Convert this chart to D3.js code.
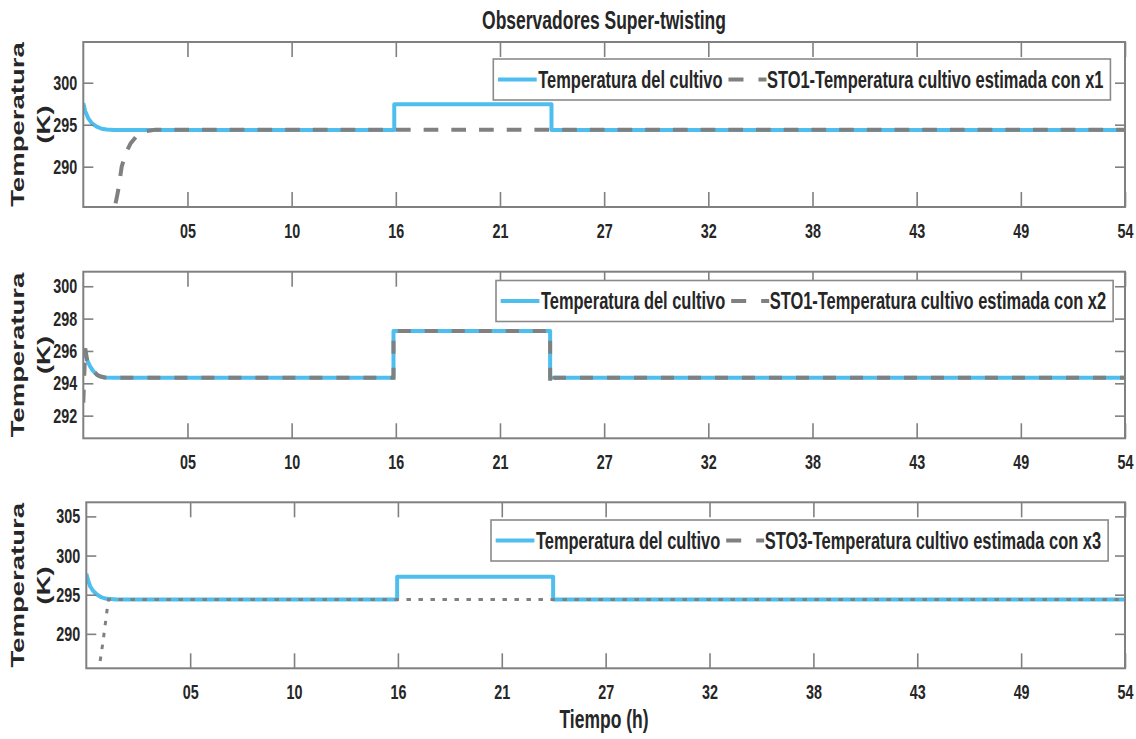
<!DOCTYPE html>
<html>
<head>
<meta charset="utf-8">
<script src="https://cdn.jsdelivr.net/npm/d3@7/dist/d3.min.js"></script>
<style>
  html, body { margin: 0; padding: 0; background: #ffffff; }
  svg { display: block; }
</style>
</head>
<body>
<svg id="chart" width="1136" height="739"></svg>
<script>
// Time axis (hours): tick positions and their printed labels
const xTickValues = [5.4, 10.8, 16.2, 21.6, 27, 32.4, 37.8, 43.2, 48.6, 54];
const xTickLabels = ["05", "10", "16", "21", "27", "32", "38", "43", "49", "54"];

// Panel 1: measured culture temperature and STO1 estimate from x1
const tReal1 = [0, 0.1, 0.26, 0.45, 0.69, 0.95, 1.21, 1.6, 16.12, 16.12, 24.27, 24.27, 54];
const vReal1 = [297.55, 296.6, 295.76, 295.15, 294.76, 294.52, 294.42, 294.37, 294.37, 297.45, 297.45, 294.37, 294.37];
const tEst1 = [1.4, 1.64, 1.81, 1.99, 2.2, 2.46, 2.75, 3.11, 3.72, 54];
const vEst1 = [282.4, 285.24, 287.2, 290.0, 291.6, 292.8, 293.6, 294.17, 294.4, 294.4];
const yTicks1 = [290, 295, 300];

// Panel 2: measured culture temperature and STO1 estimate from x2
const tReal2 = [0, 0.1, 0.2, 0.35, 0.52, 0.73, 0.9, 1.1, 1.6, 16.08, 16.08, 24.2, 24.2, 54];
const vReal2 = [296.16, 295.75, 295.44, 295.05, 294.75, 294.51, 294.42, 294.36, 294.35, 294.35, 297.23, 297.23, 294.35, 294.35];
const tEst2 = [0, 0.1, 0.2, 0.35, 0.52, 0.73, 0.9, 1.1, 1.6, 16.08, 16.08, 24.2, 24.2, 24.45, 54];
const vEst2 = [292.8, 296.16, 295.44, 295.05, 294.75, 294.51, 294.42, 294.36, 294.35, 294.35, 297.23, 297.23, 293.8, 294.35, 294.35];
const yTicks2 = [292, 294, 296, 298, 300];

// Panel 3: measured culture temperature and STO3 estimate from x3
const tReal3 = [0, 0.1, 0.2, 0.35, 0.55, 0.8, 1.06, 1.6, 16.16, 16.16, 24.27, 24.27, 54];
const vReal3 = [297.66, 296.8, 296.08, 295.5, 295.02, 294.65, 294.47, 294.4, 294.4, 297.3, 297.3, 294.4, 294.4];
const tEst3 = [0.55, 0.66, 0.78, 0.88, 0.96, 1.04, 1.1, 1.16, 54];
const vEst3 = [283.5, 285.6, 287.5, 289.2, 290.8, 292.2, 293.5, 294.4, 294.4];
const yTicks3 = [290, 295, 300, 305];

const legendReal = "Temperatura del cultivo";
const legendEst = [
  "STO1-Temperatura cultivo estimada con x1",
  "STO1-Temperatura cultivo estimada con x2",
  "STO3-Temperatura cultivo estimada con x3"
];

// ---- styling ----
const K = 0.7;                 // horizontal condensing of all glyphs
const FONT = "'Liberation Sans', Arial, sans-serif";
const BLUE = "#4DBEEE";
const GRAY = "#808080";
const FRAME = "#808080";
const INK = "#262626";

const svg = d3.select("#chart");

const panels = [
  { left: 83.3, right: 1125, top: 42, bottom: 207, yDomain: [285.2, 304.85], yTicks: yTicks1,
    tReal: tReal1, vReal: vReal1, tEst: tEst1, vEst: vEst1,
    dash: "14.7,13", estWidth: 4, legend: legendEst[0], legX: 493.3, legY: 59 },
  { left: 83.3, right: 1125, top: 271.7, bottom: 438.3, yDomain: [290.6, 300.9], yTicks: yTicks2,
    tReal: tReal2, vReal: vReal2, tEst: tEst2, vEst: vEst2,
    dash: "13,14", estWidth: 4, legend: legendEst[1], legX: 496, legY: 280.5 },
  { left: 86.3, right: 1125, top: 502.3, bottom: 668.3, yDomain: [285.6, 306.8], yTicks: yTicks3,
    tReal: tReal3, vReal: vReal3, tEst: tEst3, vEst: vEst3,
    dash: "4.5,7.5", estWidth: 3, legend: legendEst[2], legX: 491, legY: 520 }
];

function condensed(sel) {
  sel.attr("font-family", FONT).attr("font-weight", "bold").attr("fill", INK);
}

panels.forEach((p, i) => {
  const x = d3.scaleLinear().domain([0, 54]).range([p.left, p.right]);
  const y = d3.scaleLinear().domain(p.yDomain).range([p.bottom, p.top]);
  const g = svg.append("g");

  // plot background
  g.append("rect")
    .attr("x", p.left).attr("y", p.top)
    .attr("width", p.right - p.left).attr("height", p.bottom - p.top)
    .attr("fill", "#ffffff");

  // clip region for the data lines
  const clipId = "clip" + i;
  svg.append("clipPath").attr("id", clipId)
    .append("rect")
    .attr("x", p.left).attr("y", p.top)
    .attr("width", p.right - p.left).attr("height", p.bottom - p.top);

  const line = d3.line().x(d => x(d[0])).y(d => y(d[1]));
  const realPts = p.tReal.map((t, j) => [t, p.vReal[j]]);
  const estPts = p.tEst.map((t, j) => [t, p.vEst[j]]);

  const lines = g.append("g").attr("clip-path", `url(#${clipId})`);
  lines.append("path").datum(realPts)
    .attr("d", line).attr("fill", "none")
    .attr("stroke", BLUE).attr("stroke-width", 4)
    .attr("stroke-linejoin", "round");
  lines.append("path").datum(estPts)
    .attr("d", line).attr("fill", "none")
    .attr("stroke", GRAY).attr("stroke-width", p.estWidth)
    .attr("stroke-dasharray", p.dash);

  // axes: ticks point inward on all four sides
  const axB = g.append("g").attr("transform", `translate(0,${p.bottom})`)
    .call(d3.axisBottom(x).tickValues(xTickValues)
      .tickFormat((d, j) => xTickLabels[j]).tickSizeInner(-15).tickSizeOuter(0).tickPadding(16));
  const axT = g.append("g").attr("transform", `translate(0,${p.top})`)
    .call(d3.axisTop(x).tickValues(xTickValues).tickFormat("").tickSizeInner(-15).tickSizeOuter(0));
  const axL = g.append("g").attr("transform", `translate(${p.left},0)`)
    .call(d3.axisLeft(y).tickValues(p.yTicks).tickFormat(d3.format("d"))
      .tickSizeInner(-10).tickSizeOuter(0).tickPadding(6 / K));
  const axR = g.append("g").attr("transform", `translate(${p.right},0)`)
    .call(d3.axisRight(y).tickValues(p.yTicks).tickFormat("").tickSizeInner(-10).tickSizeOuter(0));

  [axB, axT, axL, axR].forEach(a => {
    a.select(".domain").remove();
    a.selectAll(".tick line").attr("stroke", FRAME).attr("stroke-width", 1.6);
    a.selectAll("text").call(condensed)
      .attr("font-size", 20.5)
      .attr("transform", `scale(${K},1)`);
  });

  // frame
  g.append("rect")
    .attr("x", p.left).attr("y", p.top)
    .attr("width", p.right - p.left).attr("height", p.bottom - p.top)
    .attr("fill", "none").attr("stroke", FRAME).attr("stroke-width", 2);

  // y-axis title, two lines, rotated
  const cy = (p.top + p.bottom) / 2;
  [["Temperatura", 17.5], ["(K)", 43]].forEach(([txt, cx]) => {
    g.append("text")
      .attr("transform", `translate(${cx},${cy}) rotate(-90) scale(1,${K})`)
      .attr("text-anchor", "middle").attr("dy", "0.36em")
      .attr("font-size", 27.5)
      .call(condensed)
      .text(txt);
  });

  // legend
  const lg = g.append("g");
  const box = lg.append("rect")
    .attr("x", p.legX).attr("y", p.legY).attr("height", 41)
    .attr("fill", "#ffffff").attr("stroke", "#8a8a8a").attr("stroke-width", 1.6);
  const ly = p.legY + 20.5;
  lg.append("line")
    .attr("x1", p.legX + 4.7).attr("x2", p.legX + 43.4)
    .attr("y1", ly).attr("y2", ly)
    .attr("stroke", BLUE).attr("stroke-width", 4);
  const t1x = p.legX + 45;
  const t1 = lg.append("text")
    .attr("transform", `translate(${t1x},${ly}) scale(${K},1)`)
    .attr("dy", "0.36em").attr("font-size", 23.5)
    .call(condensed).text(legendReal);
  const t1end = t1x + t1.node().getComputedTextLength() * K;
  const s2 = t1end + 6;
  lg.append("line")
    .attr("x1", s2).attr("x2", s2 + 38)
    .attr("y1", ly).attr("y2", ly)
    .attr("stroke", GRAY).attr("stroke-width", 4)
    .attr("stroke-dasharray", "15,15");
  const t2x = s2 + 38.5;
  const t2 = lg.append("text")
    .attr("transform", `translate(${t2x},${ly}) scale(${K},1)`)
    .attr("dy", "0.36em").attr("font-size", 23.5)
    .call(condensed).text(p.legend);
  const t2end = t2x + t2.node().getComputedTextLength() * K;
  box.attr("width", t2end + 7 - p.legX);
});

// chart title and x-axis title
svg.append("text")
  .attr("transform", `translate(604,20) scale(${K},1)`)
  .attr("text-anchor", "middle").attr("dy", "0.36em")
  .attr("font-size", 25)
  .call(condensed).text("Observadores Super-twisting");

svg.append("text")
  .attr("transform", `translate(604,719) scale(${K},1)`)
  .attr("text-anchor", "middle").attr("dy", "0.36em")
  .attr("font-size", 25)
  .call(condensed).text("Tiempo (h)");
</script>
</body>
</html>
